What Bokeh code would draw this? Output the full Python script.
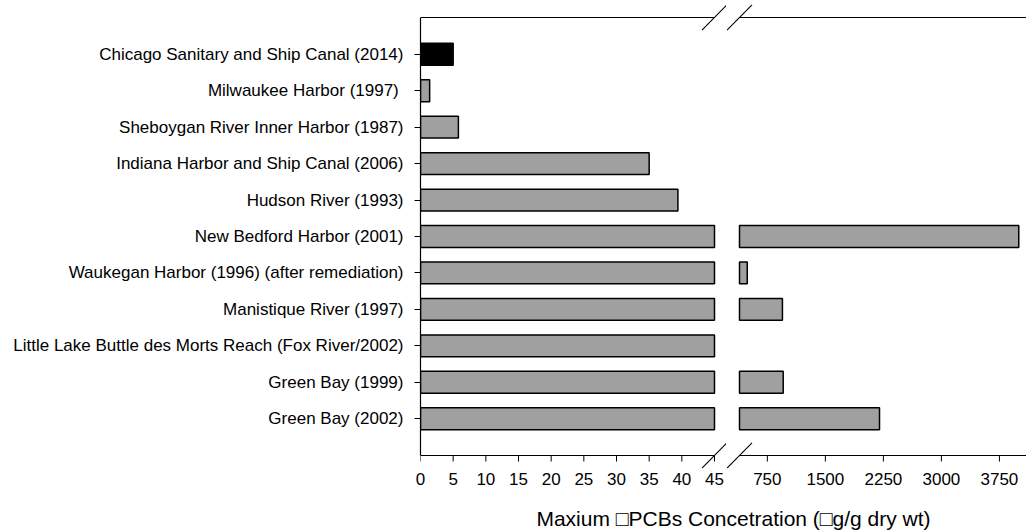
import numpy as np
from bokeh.plotting import figure
from bokeh.models import (ColumnDataSource, FactorRange, Range1d,
                          FixedTicker, PolyAnnotation, Label)
from bokeh.layouts import row, column
from bokeh.embed import file_html
from bokeh.resources import INLINE

# ---------------- data ----------------
sites = [
    "Chicago Sanitary and Ship Canal (2014)",
    "Milwaukee Harbor (1997) ",
    "Sheboygan River Inner Harbor (1987)",
    "Indiana Harbor and Ship Canal (2006)",
    "Hudson River (1993)",
    "New Bedford Harbor (2001)",
    "Waukegan Harbor (1996) (after remediation)",
    "Manistique River (1997)",
    "Little Lake Buttle des Morts Reach (Fox River/2002)",
    "Green Bay (1999)",
    "Green Bay (2002)",
]
max_pcbs = [5.0, 1.4, 5.8, 35.0, 39.4, 4000, 490, 945, 200, 955, 2200]
highlighted_sites = ["Chicago Sanitary and Ship Canal (2014)"]

low_ticks = [0, 5, 10, 15, 20, 25, 30, 35, 40, 45]
high_ticks = [750, 1500, 2250, 3000, 3750]
low_segment = (0, 45)
high_segment = (390, 4100)
x_title = "Maxium \u25a1PCBs Concetration (\u25a1g/g dry wt)"

# ---------------- styling / layout ----------------
FONT = "Liberation Sans"
LBL = "17px"
GRAY = "#a0a0a0"
ROW_H = 498
TOP_B, BOT_B = 4, 30
LEFT_W, RIGHT_W = 726, 300
AXIS_X = 420            # left axis position (px)
LOW_PX = 294            # pixel length of the 0-45 segment
GAP_R = 13              # px between right canvas edge and right segment start
EDGE_PX = 13            # px between frame edge and drawn axis lines
AX_PAD = 0.51           # category units between outer bars and axis lines
SLASH_HX, SLASH_HY = 12.5, 12.7
TICK_PX = 6

n = len(sites)
vals = np.array(max_pcbs, dtype=float)
colors = ["black" if s in highlighted_sites else GRAY for s in sites]

src_low = ColumnDataSource(dict(site=sites, end=np.minimum(vals, low_segment[1]),
                                color=colors))
mask = vals > high_segment[0]
src_high = ColumnDataSource(dict(site=[s for s, m in zip(sites, mask) if m],
                                 end=vals[mask],
                                 color=[c for c, m in zip(colors, mask) if m]))

frame_h = ROW_H - TOP_B - BOT_B
cat_px = (frame_h - 2 * EDGE_PX) / (n + 2 * AX_PAD)
frame_pad = AX_PAD + EDGE_PX / cat_px
yr = FactorRange(factors=sites[::-1], range_padding=frame_pad,
                 range_padding_units="absolute")
y_top = n + AX_PAD
y_bot = -AX_PAD
dy = SLASH_HY / cat_px

lo_scale = LOW_PX / (low_segment[1] - low_segment[0])
lo_range = Range1d(low_segment[0],
                   low_segment[1] + (LEFT_W - AXIS_X - LOW_PX) / lo_scale)
hi_scale = (RIGHT_W - GAP_R) / (high_segment[1] - high_segment[0])
hi_range = Range1d(high_segment[0] - GAP_R / hi_scale, high_segment[1])


def base_fig(width, x_range, bl, yloc):
    p = figure(width=width, height=ROW_H, x_range=x_range, y_range=yr,
               output_backend="svg", toolbar_location=None,
               min_border_left=bl, min_border_right=0,
               min_border_top=TOP_B, min_border_bottom=BOT_B,
               y_axis_location=yloc)
    p.outline_line_color = None
    p.xgrid.visible = False
    p.ygrid.visible = False
    p.background_fill_color = "white"
    p.border_fill_color = "white"
    return p


def decorate(p, seg, ticks, xc, dx):
    # tick labels: regular bottom axis (no line, no tick marks)
    ax = p.xaxis[0]
    ax.ticker = FixedTicker(ticks=ticks)
    ax.axis_line_color = None
    ax.major_tick_line_color = None
    ax.major_tick_in = 0
    ax.major_tick_out = 0
    ax.minor_tick_in = 0
    ax.minor_tick_out = 0
    ax.major_label_text_font = FONT
    ax.major_label_text_font_size = LBL
    ax.major_label_text_color = "black"
    ax.major_label_standoff = 4
    # tick marks hanging from the drawn x axis line
    p.segment(x0=ticks, y0=[y_bot] * len(ticks), x1=ticks,
              y1=[y_bot - TICK_PX / cat_px] * len(ticks),
              line_color="black", line_width=1)
    # axis lines (top frame line and bottom axis line)
    p.segment(x0=[seg[0], seg[0]], y0=[y_top, y_bot], x1=[seg[1], seg[1]],
              y1=[y_top, y_bot], line_color="black", line_width=1.2)
    # axis-break slashes
    for yc in (y_top, y_bot):
        p.add_layout(PolyAnnotation(xs=[xc - dx, xc + dx], ys=[yc - dy, yc + dy],
                                    xs_units="data", ys_units="data",
                                    fill_color=None, fill_alpha=0,
                                    line_color="black", line_alpha=1.0,
                                    line_width=1.1))


# ---------- left (0-45) ----------
left = base_fig(LEFT_W, lo_range, AXIS_X, "left")
yax = left.yaxis[0]
yax.bounds = (y_bot, y_top)
yax.axis_line_color = "black"
yax.axis_line_width = 1.2
yax.major_tick_line_color = "black"
yax.major_tick_in = 0
yax.major_tick_out = 6
yax.major_label_text_font = FONT
yax.major_label_text_font_size = LBL
yax.major_label_text_color = "black"
yax.major_label_standoff = 11
left.hbar(y="site", left=low_segment[0], right="end", height=0.6,
          fill_color="color", line_color="black", line_width=1.5, source=src_low)
decorate(left, low_segment, low_ticks, low_segment[1], SLASH_HX / lo_scale)

# ---------- right (broken part) ----------
right = base_fig(RIGHT_W, hi_range, 0, None)
right.hbar(y="site", left=high_segment[0], right="end", height=0.6,
           fill_color="color", line_color="black", line_width=1.5, source=src_high)
decorate(right, high_segment, high_ticks, high_segment[0], SLASH_HX / hi_scale)

# ---------- axis title ----------
TW, TH = LEFT_W + RIGHT_W, 531 - ROW_H
tfig = figure(width=TW, height=TH, x_range=Range1d(0, TW), y_range=Range1d(0, TH),
              output_backend="svg", toolbar_location=None, min_border=0,
              x_axis_location=None, y_axis_location=None)
tfig.outline_line_color = None
tfig.grid.visible = False
tfig.add_layout(Label(x=733, y=TH - 20, text=x_title, text_align="center",
                      text_baseline="middle", text_font=FONT,
                      text_font_size="21px", text_color="black"))

layout = column(row(left, right), tfig)
open("out.html", "w").write(file_html(layout, INLINE))
